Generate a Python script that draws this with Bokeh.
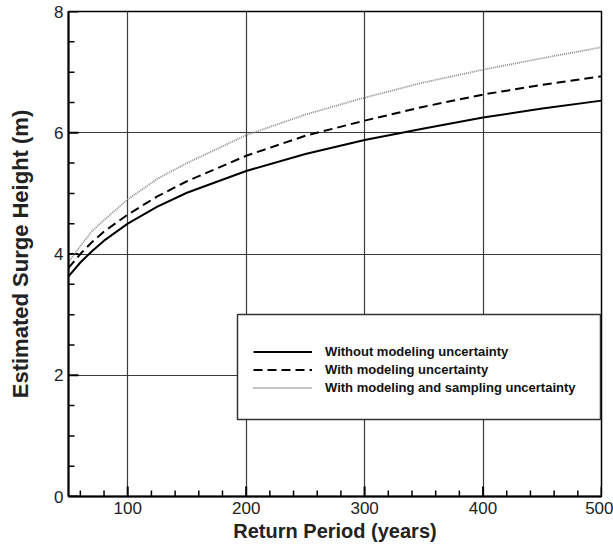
from bokeh.plotting import figure
from bokeh.models import FixedTicker, Legend, LegendItem, ColumnDataSource, BoxAnnotation
from bokeh.embed import file_html
from bokeh.resources import INLINE

# Data
return_period = [50, 60, 70, 80, 100, 125, 150, 200, 250, 300, 350, 400, 450, 500]
without_unc = [3.63, 3.86, 4.05, 4.22, 4.50, 4.78, 5.01, 5.37, 5.65, 5.88, 6.07, 6.25, 6.40, 6.53]
with_model = [3.77, 4.00, 4.20, 4.37, 4.65, 4.95, 5.20, 5.62, 5.95, 6.20, 6.43, 6.63, 6.79, 6.93]
with_model_sampling = [3.87, 4.13, 4.38, 4.56, 4.90, 5.24, 5.50, 5.96, 6.30, 6.58, 6.83, 7.04, 7.23, 7.41]

x_ticks = [100, 200, 300, 400, 500]
x_minor = [60, 80, 120, 140, 160, 180, 220, 240, 260, 280, 320, 340, 360, 380, 420, 440, 460, 480]
y_ticks = [0, 2, 4, 6, 8]
y_minor = [0.5, 1, 1.5, 2.5, 3, 3.5, 4.5, 5, 5.5, 6.5, 7, 7.5]

X_START, X_END = 50, 500
Y_START, Y_END = 0, 8

W, H = 613, 552
BL, BT, BR, BB = 68, 11, 12, 56
FRAME_W = W - BL - BR
FRAME_H = H - BT - BB
# pixels per data unit (for tick lengths and the legend frame)
PX_X = FRAME_W / (X_END - X_START)
PX_Y = FRAME_H / (Y_END - Y_START)
MAJ, MIN = 10, 6

# legend frame, in pixels relative to the plot frame (left, right from left edge; top, bottom from top edge)
LEG_L, LEG_R, LEG_T, LEG_B = 169, 532, 303, 408

src = ColumnDataSource(dict(x=return_period, a=without_unc, b=with_model, c=with_model_sampling))

FONT = "Liberation Sans"

p = figure(width=W, height=H, output_backend="svg", toolbar_location=None,
           x_range=(X_START, X_END), y_range=(Y_START, Y_END),
           min_border_left=BL, min_border_top=BT, min_border_right=BR, min_border_bottom=BB)

p.outline_line_color = "black"
p.outline_line_width = 1.5

for ax in (p.xaxis[0], p.yaxis[0]):
    ax.axis_line_width = 2
    ax.axis_line_color = "black"
    ax.major_tick_in = 0
    ax.major_tick_out = 0
    ax.minor_tick_in = 0
    ax.minor_tick_out = 0
    ax.major_label_text_font = FONT
    ax.major_label_text_font_size = "17px"
    ax.major_label_text_color = "#222222"
    ax.axis_label_text_font = FONT
    ax.axis_label_text_font_style = "bold"
    ax.axis_label_text_color = "#222222"

p.xaxis.axis_label_text_font_size = "20px"
p.yaxis.axis_label_text_font_size = "22px"
p.xaxis.ticker = FixedTicker(ticks=x_ticks)
p.yaxis.ticker = FixedTicker(ticks=y_ticks)
p.xaxis.axis_label = "Return Period (years)"
p.yaxis.axis_label = "Estimated Surge Height (m)"
p.xaxis.major_label_standoff = 5
p.yaxis.major_label_standoff = 5
p.xaxis.axis_label_standoff = 3
p.yaxis.axis_label_standoff = 18

p.xgrid.ticker = FixedTicker(ticks=x_ticks)
p.ygrid.ticker = FixedTicker(ticks=y_ticks)
for g in (p.xgrid[0], p.ygrid[0]):
    g.grid_line_color = "#3a3a3a"
    g.grid_line_width = 1.2

# inward ticks
TC = "black"
p.segment(x0=x_ticks, y0=[Y_START] * len(x_ticks), x1=x_ticks, y1=[Y_START + MAJ / PX_Y] * len(x_ticks),
          line_color=TC, line_width=2)
p.segment(x0=x_minor, y0=[Y_START] * len(x_minor), x1=x_minor, y1=[Y_START + MIN / PX_Y] * len(x_minor),
          line_color=TC, line_width=1.5)
p.segment(x0=[X_START] * len(y_ticks), y0=y_ticks, x1=[X_START + MAJ / PX_X] * len(y_ticks), y1=y_ticks,
          line_color=TC, line_width=2)
p.segment(x0=[X_START] * len(y_minor), y0=y_minor, x1=[X_START + MIN / PX_X] * len(y_minor), y1=y_minor,
          line_color=TC, line_width=1.5)

r1 = p.line("x", "a", source=src, line_color="black", line_width=2)
r2 = p.line("x", "b", source=src, line_color="black", line_width=2, line_dash="9 5")
r3 = p.line("x", "c", source=src, line_color="#8a8a8a", line_width=1.8, line_dash="1 1")

box = BoxAnnotation(left=X_START + LEG_L / PX_X, right=X_START + LEG_R / PX_X,
                    top=Y_END - LEG_T / PX_Y, bottom=Y_END - LEG_B / PX_Y,
                    fill_color="white", fill_alpha=1, line_color="#333333", line_width=1.5,
                    line_alpha=1)
p.add_layout(box)

legend = Legend(items=[
    LegendItem(label="Without modeling uncertainty", renderers=[r1]),
    LegendItem(label="With modeling uncertainty", renderers=[r2]),
    LegendItem(label="With modeling and sampling uncertainty", renderers=[r3]),
], location=(185, 100))
legend.label_text_font = FONT
legend.label_text_font_size = "13px"
legend.label_text_font_style = "bold"
legend.label_text_color = "#111111"
legend.glyph_width = 59
legend.glyph_height = 17
legend.label_height = 17
legend.spacing = 1
legend.label_standoff = 13
legend.padding = 0
legend.margin = 0
legend.border_line_alpha = 0
legend.background_fill_alpha = 0
p.add_layout(legend, "center")

open("out.html", "w").write(file_html(p, INLINE))
